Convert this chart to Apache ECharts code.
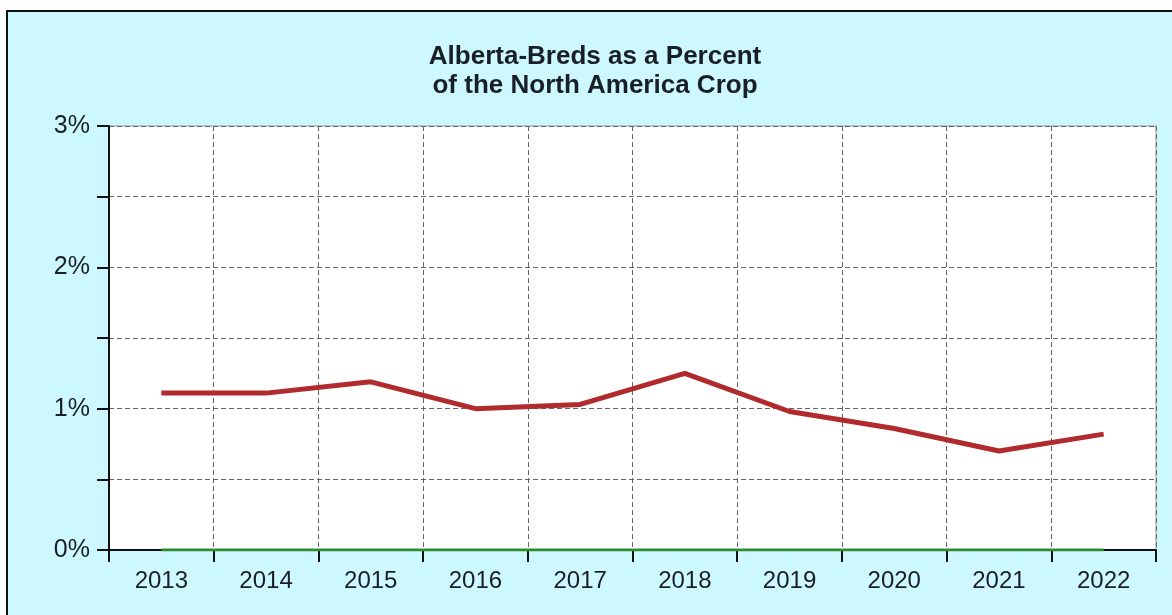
<!DOCTYPE html>
<html>
<head>
<meta charset="utf-8">
<script src="https://cdn.jsdelivr.net/npm/echarts@6/dist/echarts.min.js"></script>
<style>
html,body{margin:0;padding:0;background:#ffffff;}
#c{width:1172px;height:615px;}
</style>
</head>
<body>
<div id="c"></div>
<script>
const years = ['2013','2014','2015','2016','2017','2018','2019','2020','2021','2022'];
const albertaPct = [1.11, 1.11, 1.19, 1.00, 1.03, 1.25, 0.98, 0.86, 0.70, 0.82];
const baseline = [0, 0, 0, 0, 0, 0, 0, 0, 0, 0];
const yTicks = [0, 0.5, 1, 1.5, 2, 2.5, 3];
const titleText = 'Alberta-Breds as a Percent\nof the North America Crop';

const chart = echarts.init(document.getElementById('c'), null, {renderer:'canvas'});
const font = '"Liberation Sans", Arial, sans-serif';
chart.setOption({
  backgroundColor: '#ffffff',
  animation: false,
  graphic: [{
    type: 'rect', z: -10, silent: true,
    shape: {x: 7, y: 11, width: 1200, height: 700},
    style: {fill: '#cdf8ff', stroke: '#111111', lineWidth: 2}
  }],
  title: {
    text: titleText,
    left: 590, top: 37, textAlign: 'center',
    textStyle: {fontFamily: font, fontSize: 26, fontWeight: 'bold', color: '#1a1f26', lineHeight: 29}
  },
  grid: {
    left: 109, right: 16, top: 126, bottom: 65,
    show: true, backgroundColor: '#ffffff', borderColor: '#999999', borderWidth: 1
  },
  xAxis: {
    type: 'category', data: years, boundaryGap: true,
    axisLine: {lineStyle: {color: '#111111', width: 2}},
    axisTick: {show: true, interval: 0, length: 12, lineStyle: {color: '#111111', width: 2}},
    axisLabel: {interval: 0, margin: 19, fontFamily: font, fontSize: 24, color: '#1a1f26'},
    splitLine: {show: true, interval: 0, lineStyle: {color: '#666666', type: [5, 3], width: 1}}
  },
  yAxis: {
    type: 'value', min: yTicks[0], max: yTicks[yTicks.length - 1], interval: 0.5,
    axisLine: {show: true, lineStyle: {color: '#111111', width: 2}},
    axisTick: {show: true, length: 12, lineStyle: {color: '#111111', width: 2}},
    axisLabel: {
      margin: 19, fontFamily: font, fontSize: 25, color: '#1a1f26',
      formatter: v => (Math.abs(v - Math.round(v)) < 1e-9 ? Math.round(v) + '%' : '')
    },
    splitLine: {show: true, lineStyle: {color: '#666666', type: [5, 3], width: 1}}
  },
  series: [
    {
      name: 'Baseline', type: 'line', data: baseline, symbol: 'none', z: 5,
      lineStyle: {color: '#2e8b2e', width: 3}
    },
    {
      name: 'Alberta-Breds', type: 'line', data: albertaPct, symbol: 'none', z: 6,
      lineStyle: {color: '#b02a2e', width: 5}
    }
  ]
});
</script>
</body>
</html>
